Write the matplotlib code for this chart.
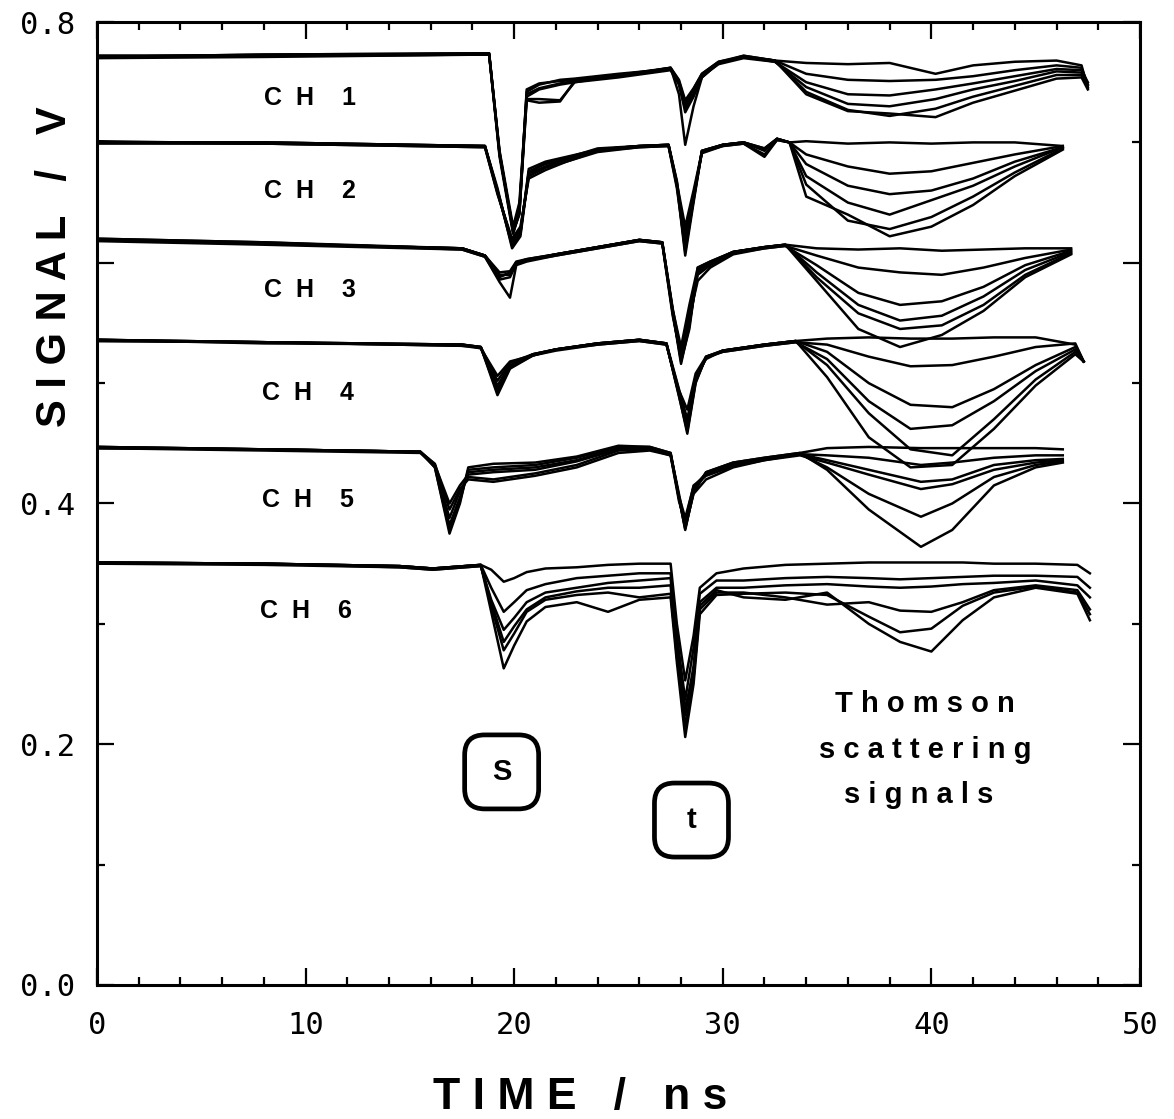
import matplotlib
matplotlib.use('Agg')
import matplotlib.pyplot as plt
from matplotlib.patches import FancyBboxPatch
from matplotlib.transforms import ScaledTranslation
from matplotlib.ticker import MultipleLocator

ch1_t = [0, 8, 18.8, 19.3, 19.95, 20.25, 20.6, 21.2, 22.2, 22.9, 25, 27.5, 27.9, 28.2,
         28.6, 29.0, 29.8, 31.0, 32.5, 34, 36, 38, 40.2, 42, 44, 46, 47.2, 47.5]
ch1_shots = [
    [0.771, 0.773, 0.774, 0.692, 0.626, 0.640, 0.744, 0.749, 0.751, 0.752, 0.756, 0.762, 0.752, 0.735,
     0.745, 0.757, 0.767, 0.772, 0.768, 0.766, 0.765, 0.766, 0.757, 0.764, 0.767, 0.768, 0.764, 0.745],
    [0.772, 0.772, 0.773, 0.690, 0.628, 0.645, 0.742, 0.748, 0.752, 0.753, 0.757, 0.761, 0.750, 0.730,
     0.742, 0.756, 0.766, 0.771, 0.768, 0.757, 0.752, 0.751, 0.752, 0.755, 0.760, 0.764, 0.762, 0.748],
    [0.771, 0.772, 0.773, 0.688, 0.624, 0.642, 0.740, 0.745, 0.749, 0.751, 0.755, 0.762, 0.751, 0.733,
     0.744, 0.757, 0.767, 0.771, 0.767, 0.750, 0.740, 0.739, 0.744, 0.749, 0.755, 0.761, 0.760, 0.750],
    [0.770, 0.771, 0.773, 0.693, 0.630, 0.650, 0.738, 0.744, 0.748, 0.750, 0.754, 0.760, 0.748, 0.728,
     0.740, 0.755, 0.765, 0.770, 0.767, 0.746, 0.732, 0.730, 0.736, 0.744, 0.751, 0.759, 0.758, 0.748],
    [0.772, 0.772, 0.774, 0.690, 0.627, 0.644, 0.736, 0.736, 0.735, 0.750, 0.756, 0.761, 0.749, 0.725,
     0.738, 0.754, 0.766, 0.771, 0.768, 0.742, 0.727, 0.722, 0.728, 0.738, 0.747, 0.756, 0.756, 0.746],
    [0.771, 0.773, 0.774, 0.691, 0.625, 0.641, 0.735, 0.733, 0.734, 0.751, 0.755, 0.762, 0.740, 0.698,
     0.730, 0.754, 0.766, 0.772, 0.768, 0.740, 0.726, 0.724, 0.721, 0.733, 0.743, 0.753, 0.754, 0.744],
]

ch2_t = [0, 8, 18.6, 19.2, 19.9, 20.3, 20.7, 21.5, 22.5, 24, 26, 27.4, 27.8, 28.2,
         28.6, 29.0, 30, 31, 32.0, 32.6, 33.2, 34, 36, 38, 40, 42, 44, 46.3]
ch2_shots = [
    [0.700, 0.700, 0.697, 0.660, 0.615, 0.625, 0.676, 0.682, 0.686, 0.694, 0.697, 0.698, 0.665, 0.606,
     0.650, 0.693, 0.698, 0.700, 0.694, 0.703, 0.700, 0.701, 0.699, 0.700, 0.699, 0.700, 0.700, 0.697],
    [0.701, 0.699, 0.696, 0.658, 0.618, 0.628, 0.672, 0.679, 0.684, 0.693, 0.696, 0.697, 0.662, 0.612,
     0.652, 0.692, 0.697, 0.699, 0.690, 0.702, 0.700, 0.690, 0.680, 0.674, 0.676, 0.683, 0.690, 0.697],
    [0.700, 0.700, 0.697, 0.662, 0.612, 0.622, 0.675, 0.683, 0.687, 0.695, 0.697, 0.698, 0.668, 0.618,
     0.655, 0.693, 0.698, 0.700, 0.695, 0.703, 0.700, 0.682, 0.664, 0.657, 0.660, 0.670, 0.684, 0.696],
    [0.699, 0.699, 0.696, 0.657, 0.620, 0.630, 0.670, 0.677, 0.684, 0.692, 0.696, 0.697, 0.664, 0.624,
     0.657, 0.691, 0.697, 0.699, 0.688, 0.702, 0.700, 0.672, 0.650, 0.640, 0.652, 0.664, 0.680, 0.696],
    [0.700, 0.700, 0.697, 0.660, 0.616, 0.626, 0.674, 0.680, 0.686, 0.694, 0.697, 0.698, 0.666, 0.630,
     0.660, 0.692, 0.698, 0.700, 0.693, 0.703, 0.700, 0.665, 0.635, 0.628, 0.638, 0.655, 0.675, 0.695],
    [0.700, 0.699, 0.697, 0.659, 0.614, 0.624, 0.678, 0.684, 0.688, 0.694, 0.697, 0.698, 0.667, 0.609,
     0.653, 0.693, 0.698, 0.700, 0.695, 0.703, 0.700, 0.655, 0.640, 0.622, 0.630, 0.648, 0.672, 0.694],
]

ch3_t = [0, 8, 17.5, 18.6, 19.3, 19.8, 20.1, 20.6, 22, 24, 26, 27.1, 27.6, 28.0,
         28.4, 28.8, 29.4, 30.5, 32, 33, 34.5, 36.5, 38.5, 40.5, 42.5, 44.5, 46.7]
ch3_shots = [
    [0.619, 0.616, 0.612, 0.606, 0.588, 0.592, 0.600, 0.602, 0.607, 0.613, 0.619, 0.617, 0.560, 0.518,
     0.545, 0.596, 0.601, 0.609, 0.613, 0.615, 0.612, 0.611, 0.612, 0.610, 0.611, 0.612, 0.612],
    [0.620, 0.617, 0.611, 0.605, 0.584, 0.571, 0.598, 0.601, 0.606, 0.612, 0.618, 0.616, 0.556, 0.522,
     0.550, 0.590, 0.598, 0.608, 0.612, 0.614, 0.606, 0.596, 0.592, 0.590, 0.596, 0.604, 0.611],
    [0.619, 0.616, 0.612, 0.606, 0.590, 0.590, 0.600, 0.603, 0.607, 0.613, 0.619, 0.617, 0.562, 0.525,
     0.555, 0.585, 0.596, 0.607, 0.612, 0.614, 0.598, 0.575, 0.565, 0.568, 0.580, 0.598, 0.610],
    [0.618, 0.615, 0.611, 0.605, 0.586, 0.588, 0.599, 0.602, 0.606, 0.612, 0.618, 0.616, 0.558, 0.520,
     0.560, 0.592, 0.600, 0.609, 0.613, 0.615, 0.592, 0.565, 0.552, 0.556, 0.572, 0.594, 0.609],
    [0.619, 0.616, 0.612, 0.606, 0.592, 0.593, 0.601, 0.603, 0.607, 0.613, 0.619, 0.617, 0.561, 0.530,
     0.565, 0.596, 0.601, 0.609, 0.613, 0.615, 0.588, 0.558, 0.545, 0.548, 0.565, 0.590, 0.608],
    [0.620, 0.617, 0.612, 0.606, 0.589, 0.591, 0.600, 0.602, 0.607, 0.613, 0.619, 0.617, 0.559, 0.516,
     0.548, 0.594, 0.600, 0.609, 0.613, 0.615, 0.585, 0.545, 0.530, 0.540, 0.560, 0.588, 0.607],
]

ch4_t = [0, 8, 17.5, 18.4, 19.2, 19.8, 20.9, 22, 24, 26, 27.3, 27.9, 28.3,
         28.7, 29.2, 30, 32, 33.5, 35, 37, 39, 41, 43, 45, 46.9, 47.3]
ch4_shots = [
    [0.536, 0.534, 0.532, 0.530, 0.492, 0.513, 0.523, 0.528, 0.533, 0.536, 0.533, 0.490, 0.458,
     0.500, 0.522, 0.527, 0.532, 0.535, 0.537, 0.538, 0.537, 0.537, 0.538, 0.538, 0.532, 0.518],
    [0.535, 0.534, 0.531, 0.529, 0.498, 0.515, 0.524, 0.528, 0.532, 0.535, 0.532, 0.492, 0.462,
     0.503, 0.521, 0.526, 0.531, 0.534, 0.532, 0.522, 0.514, 0.515, 0.522, 0.530, 0.533, 0.518],
    [0.536, 0.534, 0.532, 0.530, 0.502, 0.517, 0.524, 0.528, 0.533, 0.536, 0.533, 0.495, 0.470,
     0.506, 0.520, 0.527, 0.532, 0.535, 0.526, 0.500, 0.482, 0.480, 0.495, 0.515, 0.530, 0.518],
    [0.536, 0.533, 0.532, 0.529, 0.506, 0.518, 0.523, 0.527, 0.532, 0.535, 0.532, 0.494, 0.478,
     0.508, 0.522, 0.526, 0.531, 0.534, 0.520, 0.485, 0.462, 0.465, 0.485, 0.510, 0.528, 0.518],
    [0.535, 0.534, 0.531, 0.530, 0.495, 0.514, 0.524, 0.528, 0.533, 0.536, 0.533, 0.491, 0.465,
     0.502, 0.521, 0.527, 0.532, 0.535, 0.515, 0.475, 0.445, 0.440, 0.470, 0.503, 0.526, 0.518],
    [0.536, 0.534, 0.532, 0.530, 0.490, 0.512, 0.523, 0.528, 0.533, 0.536, 0.533, 0.489, 0.460,
     0.501, 0.522, 0.527, 0.532, 0.535, 0.505, 0.455, 0.430, 0.432, 0.462, 0.498, 0.524, 0.518],
]

ch5_t = [0, 8, 15.5, 16.2, 16.9, 17.4, 17.8, 19, 21, 23, 25, 26.5, 27.5, 27.9,
         28.2, 28.6, 29.2, 30.5, 32, 33.7, 35, 37, 39.5, 41, 43, 45, 46.3]
ch5_shots = [
    [0.447, 0.445, 0.443, 0.430, 0.375, 0.400, 0.430, 0.433, 0.434, 0.439, 0.448, 0.447, 0.442, 0.405,
     0.378, 0.410, 0.426, 0.434, 0.438, 0.442, 0.446, 0.447, 0.446, 0.446, 0.446, 0.446, 0.445],
    [0.446, 0.445, 0.443, 0.432, 0.382, 0.405, 0.426, 0.428, 0.430, 0.436, 0.446, 0.446, 0.441, 0.408,
     0.382, 0.412, 0.424, 0.432, 0.437, 0.441, 0.440, 0.438, 0.432, 0.434, 0.438, 0.440, 0.440],
    [0.446, 0.444, 0.442, 0.431, 0.388, 0.410, 0.422, 0.420, 0.425, 0.432, 0.444, 0.445, 0.440, 0.402,
     0.385, 0.415, 0.423, 0.431, 0.436, 0.441, 0.436, 0.428, 0.418, 0.420, 0.432, 0.436, 0.437],
    [0.447, 0.445, 0.443, 0.433, 0.395, 0.412, 0.420, 0.418, 0.423, 0.430, 0.442, 0.444, 0.440, 0.404,
     0.380, 0.408, 0.420, 0.430, 0.436, 0.440, 0.434, 0.424, 0.412, 0.416, 0.428, 0.434, 0.436],
    [0.446, 0.445, 0.443, 0.432, 0.400, 0.415, 0.424, 0.426, 0.428, 0.435, 0.445, 0.446, 0.441, 0.406,
     0.388, 0.414, 0.425, 0.433, 0.437, 0.441, 0.430, 0.408, 0.389, 0.400, 0.422, 0.432, 0.435],
    [0.447, 0.445, 0.443, 0.430, 0.378, 0.402, 0.428, 0.430, 0.432, 0.438, 0.447, 0.447, 0.442, 0.405,
     0.379, 0.409, 0.426, 0.434, 0.438, 0.442, 0.428, 0.395, 0.364, 0.378, 0.415, 0.430, 0.434],
]

ch6_t = [0, 8, 14.5, 16.1, 18.4, 18.9, 19.5, 20.0, 20.6, 21.5, 23, 24.5, 26, 27.5, 27.8,
         28.2, 28.6, 28.9, 29.7, 31, 33, 35, 37, 38.5, 40, 41.5, 43, 45, 47.0, 47.6]
ch6_shots = [
    [0.351, 0.350, 0.348, 0.346, 0.349, 0.345, 0.335, 0.338, 0.343, 0.346, 0.347, 0.349, 0.350, 0.350, 0.300,
     0.253, 0.290, 0.330, 0.342, 0.346, 0.349, 0.350, 0.351, 0.351, 0.351, 0.351, 0.350, 0.350, 0.349, 0.342],
    [0.351, 0.350, 0.348, 0.346, 0.349, 0.330, 0.310, 0.318, 0.328, 0.333, 0.338, 0.340, 0.342, 0.342, 0.290,
     0.237, 0.280, 0.325, 0.336, 0.336, 0.338, 0.339, 0.338, 0.337, 0.338, 0.339, 0.340, 0.340, 0.339, 0.330],
    [0.350, 0.349, 0.347, 0.345, 0.348, 0.320, 0.295, 0.305, 0.318, 0.326, 0.330, 0.334, 0.336, 0.338, 0.280,
     0.224, 0.265, 0.318, 0.330, 0.330, 0.332, 0.333, 0.331, 0.330, 0.331, 0.333, 0.334, 0.336, 0.332, 0.322],
    [0.351, 0.350, 0.348, 0.346, 0.349, 0.315, 0.278, 0.292, 0.310, 0.320, 0.324, 0.326, 0.322, 0.325, 0.275,
     0.215, 0.255, 0.312, 0.326, 0.326, 0.322, 0.316, 0.318, 0.311, 0.310, 0.318, 0.328, 0.332, 0.328, 0.312],
    [0.351, 0.350, 0.348, 0.346, 0.349, 0.310, 0.263, 0.282, 0.302, 0.314, 0.318, 0.310, 0.320, 0.322, 0.268,
     0.206, 0.250, 0.308, 0.324, 0.325, 0.326, 0.324, 0.306, 0.293, 0.296, 0.315, 0.326, 0.331, 0.326, 0.308],
    [0.350, 0.350, 0.347, 0.345, 0.348, 0.318, 0.285, 0.298, 0.312, 0.322, 0.327, 0.330, 0.330, 0.332, 0.272,
     0.230, 0.260, 0.315, 0.328, 0.322, 0.320, 0.326, 0.300, 0.285, 0.277, 0.303, 0.322, 0.330, 0.325, 0.303],
]

channel_names = ['C  H    1', 'C  H    2', 'C  H    3', 'C  H    4', 'C  H    5', 'C  H    6']
y_ticklabels = ['0.0', '0.2', '0.4', '', '0.8']

channels = [(ch1_t, ch1_shots), (ch2_t, ch2_shots), (ch3_t, ch3_shots),
            (ch4_t, ch4_shots), (ch5_t, ch5_shots), (ch6_t, ch6_shots)]
label_pos = [(10.2, 0.737), (10.2, 0.660), (10.2, 0.577),
             (10.1, 0.492), (10.1, 0.403), (10.0, 0.311)]

bold = {'family': 'Liberation Sans', 'weight': 'bold'}
mono = 'DejaVu Sans Mono'

fig = plt.figure(figsize=(11.74, 11.19), dpi=100)
ax = fig.add_axes([0.0826, 0.1198, 0.8884, 0.8605])

for t, shots in channels:
    for v in shots:
        ax.plot(t, v, color='black', lw=1.8, solid_joinstyle='round')

for name, (x, y) in zip(channel_names, label_pos):
    ax.text(x, y, name, ha='center', va='center', fontsize=18, **bold)

ax.text(39.7, 0.233, 'T h o m s o n', ha='center', va='center', fontsize=21, **bold)
ax.text(39.7, 0.195, 's c a t t e r i n g', ha='center', va='center', fontsize=21, **bold)
ax.text(39.4, 0.158, 's i g n a l s', ha='center', va='center', fontsize=21, **bold)


def marker_box(x, y, letter):
    # rounded square fixed in inches, anchored at a data point
    tr = fig.dpi_scale_trans + ScaledTranslation(x, y, ax.transData)
    box = FancyBboxPatch((-0.37, -0.37), 0.74, 0.74,
                         boxstyle='round,pad=0,rounding_size=0.2',
                         transform=tr, fill=False, lw=3.4, ec='black', clip_on=False)
    ax.add_patch(box)
    ax.text(x, y, letter, ha='center', va='center', fontsize=21, **bold)


marker_box(19.4, 0.177, 'S')
marker_box(28.5, 0.137, 't')

ax.set_xlim(0, 50)
ax.set_ylim(0, 0.8)
ax.xaxis.set_major_locator(MultipleLocator(10))
ax.xaxis.set_minor_locator(MultipleLocator(2))
ax.set_yticks([0.0, 0.2, 0.4, 0.6, 0.8])
ax.set_yticklabels(y_ticklabels)
ax.yaxis.set_minor_locator(MultipleLocator(0.1))
ax.tick_params(which='both', direction='in', top=True, right=True, width=1.6)
ax.tick_params(which='major', length=12)
ax.tick_params(which='minor', length=6)
ax.tick_params(axis='x', which='major', pad=19, labelsize=22)
ax.tick_params(axis='y', which='major', pad=16, labelsize=22)
for lab in ax.get_xticklabels() + ax.get_yticklabels():
    lab.set_family(mono)
for sp in ax.spines.values():
    sp.set_linewidth(2.2)

fig.text(0.047, 0.762, 'S I G N A L   /   V', rotation=90, ha='center', va='center',
         fontsize=30, **bold)
fig.text(0.494, 0.019, 'T I M E   /   n s', ha='center', va='center', fontsize=32, **bold)

fig.savefig('out.png', dpi=100)
